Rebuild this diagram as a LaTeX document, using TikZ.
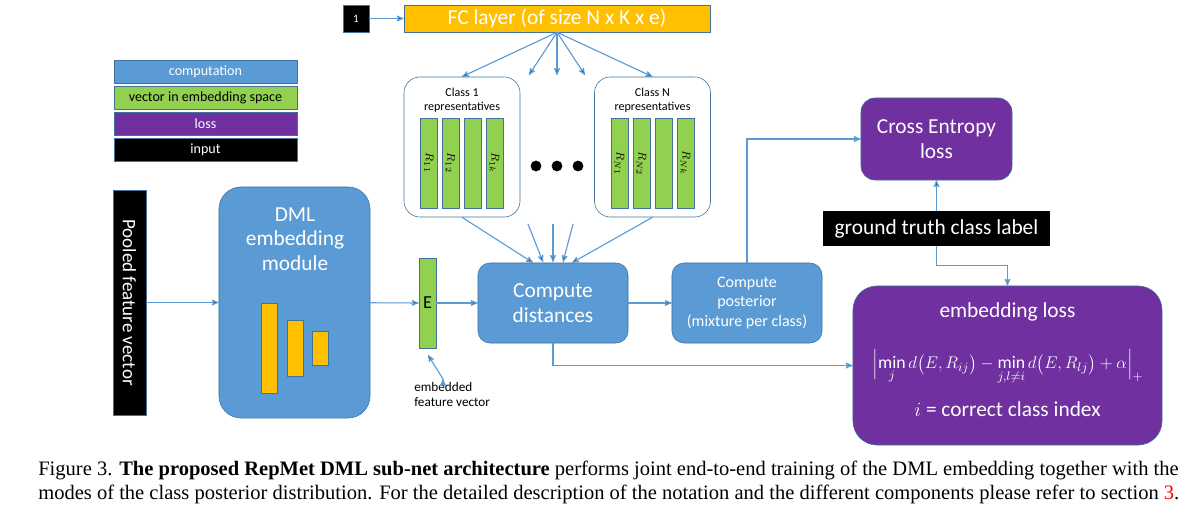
\documentclass[tikz,border=0pt]{standalone}
\usepackage{amsmath}
\usepackage{fontspec}
\setmainfont{Carlito}
\newfontfamily\capfont{Liberation Serif}
\usetikzlibrary{arrows}
\definecolor{compblue}{HTML}{5B9BD5}
\definecolor{bordblue}{HTML}{41719C}
\definecolor{vecgreen}{HTML}{92D050}
\definecolor{losspurple}{HTML}{7030A0}
\definecolor{fcorange}{HTML}{FFC000}

\begin{document}
\begin{tikzpicture}[x=0.025cm,y=-0.025cm,>=stealth',
    flow/.style={->,draw=compblue,line width=0.8pt},
    legend box/.style={rectangle,draw=bordblue,minimum width=4.575cm,minimum height=0.575cm,inner sep=0pt,font=\fontsize{10}{11}\selectfont},
    comp node/.style={rectangle,rounded corners=0.3cm,draw=bordblue,fill=compblue,text=white,align=center,inner sep=0pt},
    loss node/.style={rectangle,rounded corners=0.35cm,draw=bordblue,fill=losspurple,text=white,align=center,inner sep=0pt},
    class node/.style={rectangle,rounded corners=0.4cm,draw=bordblue,fill=white,minimum width=2.9cm,minimum height=3.5cm,inner sep=0pt},
    rep bar/.style={rectangle,draw=bordblue,fill=vecgreen,minimum width=0.425cm,minimum height=2.25cm,inner sep=0pt,font=\fontsize{8.5}{9}\selectfont},
    layer bar/.style={rectangle,draw=bordblue,fill=fcorange,minimum width=0.4cm,inner sep=0pt},
    big text/.style={font=\fontsize{15.2}{17.5}\selectfont}]
  \useasboundingbox (0,0) rectangle (1193,520);

  % legend
  \node[legend box,fill=compblue,text=white]   (lcomp) at (205.5,71.5)  {computation};
  \node[legend box,fill=vecgreen]              (lvec)  at (205.5,97.5)  {vector in embedding space};
  \node[legend box,fill=losspurple,text=white] (lloss) at (205.5,123.5) {loss};
  \node[legend box,fill=black,text=white]      (linp)  at (205.5,149.5) {input};

  % FC layer on top
  \node[rectangle,draw=bordblue,fill=black,text=white,minimum width=0.65cm,minimum height=0.675cm,font=\fontsize{8}{9}\selectfont] (one) at (356,18.5) {1};
  \node[rectangle,draw=bordblue,fill=fcorange,text=white,minimum width=7.65cm,minimum height=0.675cm,inner sep=0pt,big text] (fc) at (557,18.5) {FC layer (of size N x K x e)};

  % class representatives
  \node[class node] (cls1) at (462,147) {};
  \node[class node] (clsN) at (652.5,147) {};
  \node[align=center,font=\fontsize{8.6}{10}\selectfont] (t1) at (462,100) {Class 1\\representatives};
  \node[align=center,font=\fontsize{8.6}{10}\selectfont] (tN) at (652.5,100) {Class N\\representatives};
  \foreach \x/\lab [count=\i] in {429/{$R_{11}$},450.5/{$R_{12}$},472.5/{},494.5/{$R_{1k}$}}
    \node[rep bar] (r1\i) at (\x,163) {\rotatebox{-90}{\lab}};
  \foreach \x/\lab [count=\i] in {619.5/{$R_{N1}$},641.5/{$R_{N2}$},663.5/{},685.5/{$R_{Nk}$}}
    \node[rep bar] (rN\i) at (\x,163) {\rotatebox{-90}{\lab}};
  \foreach \x [count=\i] in {536,557,578}
    \node[circle,fill=black,minimum size=0.27cm,inner sep=0pt] (dot\i) at (\x,166) {};

  % input and embedding
  \node[rectangle,draw=bordblue,fill=black,text=white,minimum width=0.825cm,minimum height=5.625cm,inner sep=0pt] (pooled) at (129.5,302.5) {};
  \node[rotate=-90,text=white,font=\fontsize{13.5}{16}\selectfont] (pooledtxt) at (pooled.center) {Pooled feature vector};
  \node[comp node,rounded corners=0.55cm,minimum width=3.775cm,minimum height=5.775cm] (dml) at (294.5,302.5) {};
  \node[text=white,align=center,big text] (dmltxt) at (295,239) {DML\\embedding\\module};
  \node[layer bar,minimum height=2.25cm] (b1) at (269,348) {};
  \node[layer bar,minimum height=1.4cm]  (b2) at (295,348) {};
  \node[layer bar,minimum height=0.85cm] (b3) at (320,348) {};
  \node[rep bar,font=\fontsize{13}{15}\selectfont] (e) at (427.5,303) {E};
  \node[align=left,anchor=north west,inner sep=0pt,font=\fontsize{9.4}{11}\selectfont] (etxt) at (414,382) {embedded\\feature vector};

  % computation
  \node[comp node,minimum width=3.75cm,minimum height=2cm,big text] (dist) at (553,303) {Compute\\distances};
  \node[comp node,minimum width=3.75cm,minimum height=2cm,font=\fontsize{11.4}{14}\selectfont] (post) at (747,303) {Compute\\posterior\\(mixture per class)};

  % losses
  \node[loss node,minimum width=3.775cm,minimum height=2.05cm,big text] (ce) at (936.5,139) {Cross Entropy\\loss};
  \node[rectangle,fill=black,text=white,minimum width=5.675cm,minimum height=0.875cm,inner sep=0pt,big text] (gt) at (936.5,228.5) {ground truth class label};
  \node[loss node,rounded corners=0.6cm,minimum width=7.725cm,minimum height=3.975cm] (emb) at (1007.5,365.5) {};
  \node[text=white,big text] (embtitle) at (1007.5,312) {embedding loss};
  \node[text=white,font=\fontsize{12.6}{15}\selectfont] (embform) at (1008,367)
    {$\Bigl|\min\limits_{j} d\big(E,R_{ij}\big) - \min\limits_{j,l\neq i} d\big(E,R_{lj}\big) + \alpha\Bigr|_{+}$};
  \node[text=white,big text] (embidx) at (1007.5,409) {$i$ = correct class index};

  % free ends of the short arrows
  \coordinate (fa) at (529,75);
  \coordinate (fb) at (557,75);
  \coordinate (fc3) at (585,75);
  \coordinate (ga) at (528,224);
  \coordinate (gb) at (553,224);
  \coordinate (gc) at (573,224);
  \coordinate (ha) at (543,262);
  \coordinate (hb) at (553,262);
  \coordinate (hc) at (563,262);
  \coordinate (earr) at (443,379);
  \coordinate (etip) at (428,355);

  \path[flow] (one) edge (fc)
        (fc.south) edge (cls1.north)
        (fc.south) edge (fa)
        (fc.south) edge (fb)
        (fc.south) edge (fc3)
        (fc.south) edge (clsN.north)
        (cls1.south) edge (dist.north -| 533,0)
        (clsN.south) edge (dist.north -| 572,0)
        (ga) edge (ha)
        (gb) edge (hb)
        (gc) edge (hc)
        (pooled) edge (dml)
        (dml) edge (e)
        (e) edge (dist)
        (dist) edge (post)
        (earr) edge (etip)
        (gt) edge (ce)
        ;
  \draw[flow] (post.north) |- (ce.west);
  \draw[flow] (gt.south) -- ++(0,19) -| (emb.north);
  \draw[flow] (dist.south) |- (emb.west);

  % caption
  \node[anchor=west,inner sep=0pt,font=\capfont\fontsize{14.6}{17}\selectfont] (cap1) at (38,470)
    {Figure 3. \textbf{The proposed RepMet DML sub-net architecture} performs joint end-to-end training of the DML embedding together with the};
  \node[anchor=west,inner sep=0pt,font=\capfont\fontsize{14.6}{17}\selectfont] (cap2) at (38,494)
    {modes of the class posterior distribution. For the detailed description of the notation and the different components please refer to section \textcolor{red}{3}.};
\end{tikzpicture}
\end{document}
